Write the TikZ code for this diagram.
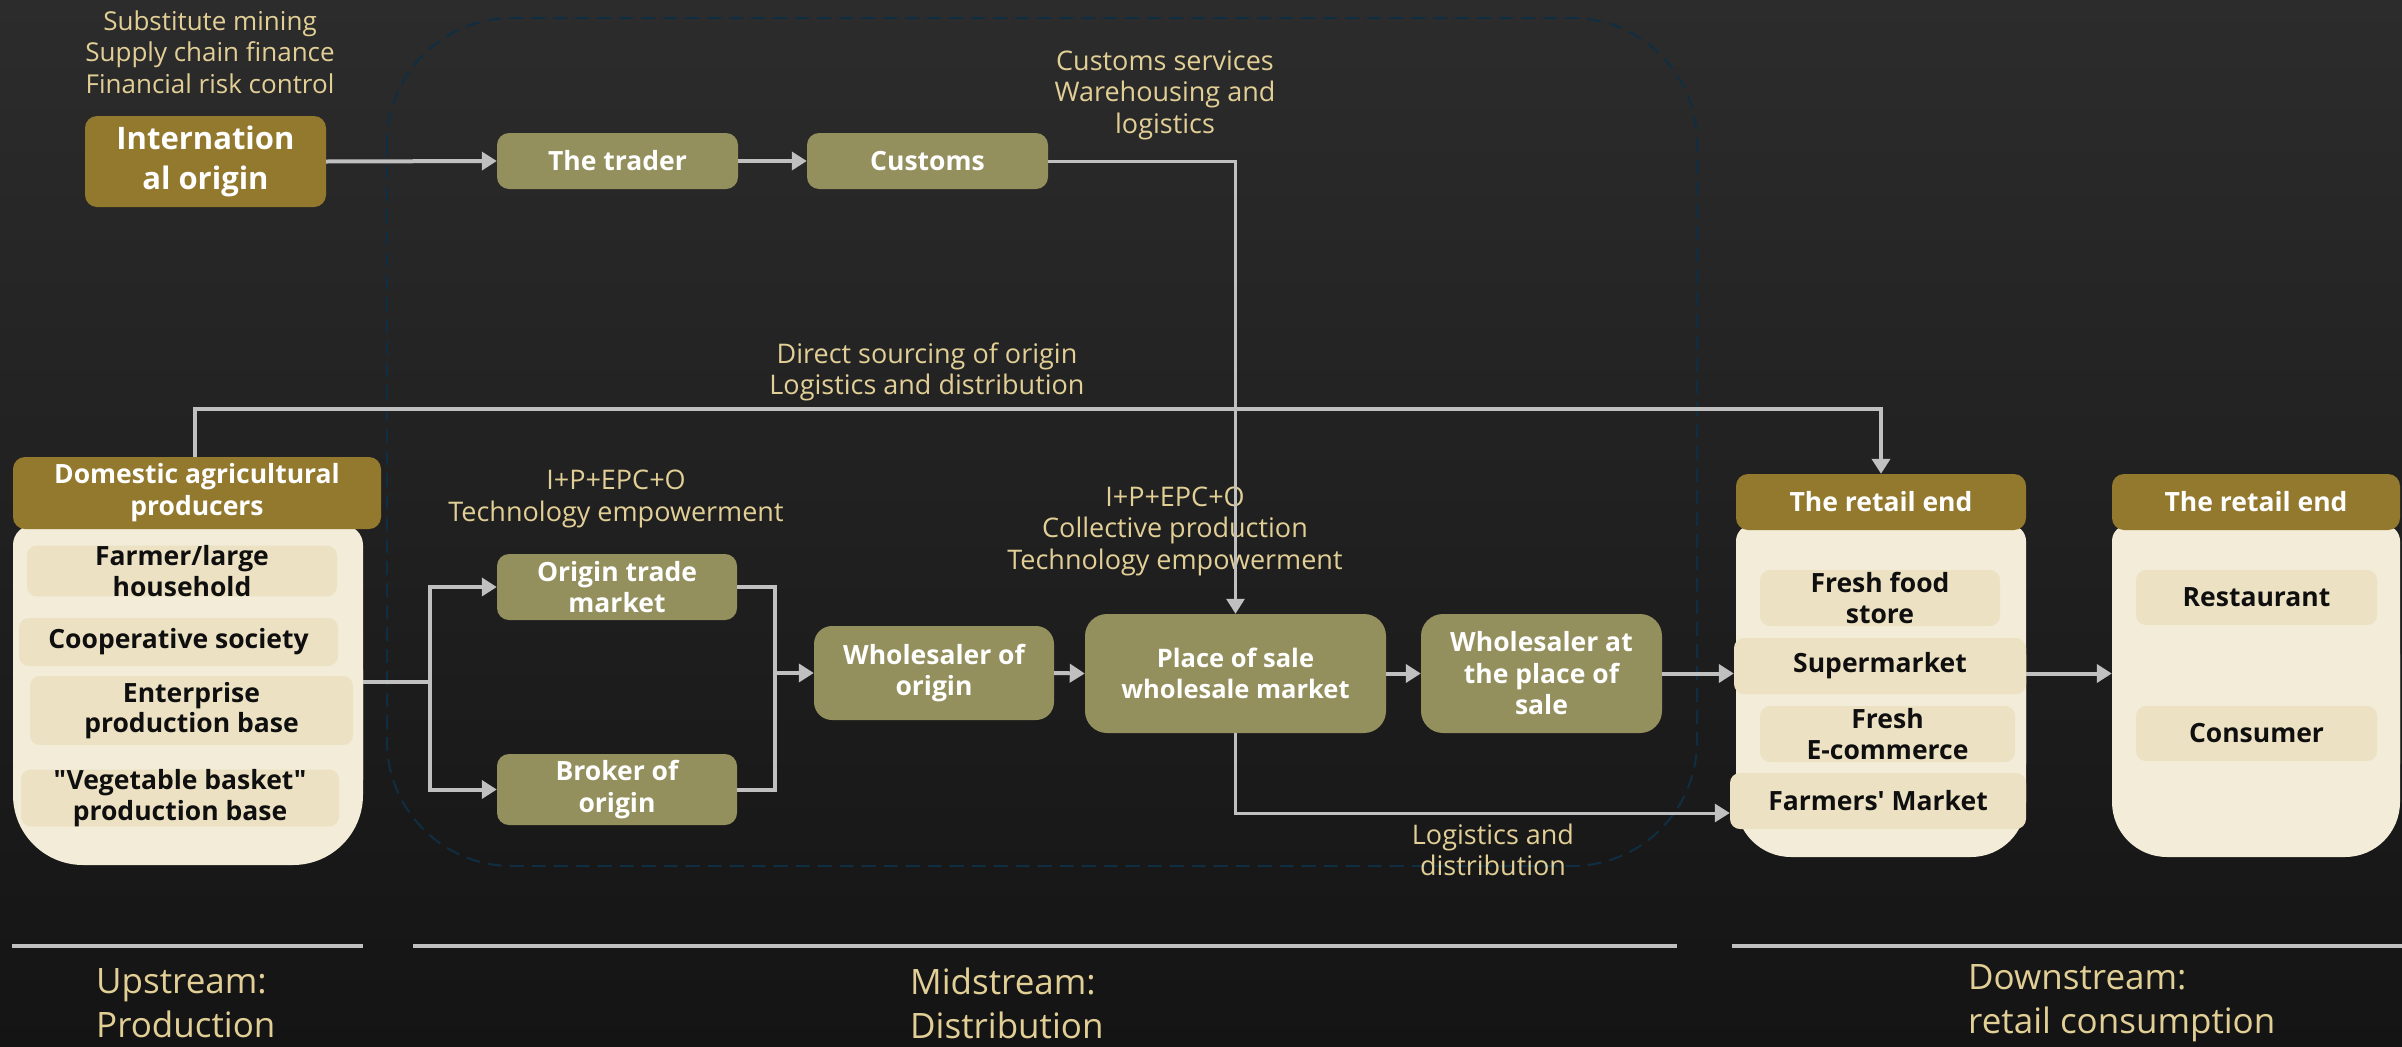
\documentclass[tikz,border=0pt]{standalone}
\usepackage{fontspec}
\setmainfont{Open Sans}[Ligatures=TeXOff]
\usetikzlibrary{arrows.meta}

\definecolor{bgtop}{RGB}{44,44,44}
\definecolor{bgbot}{RGB}{20,20,20}
\definecolor{gold}{RGB}{147,121,46}
\definecolor{olive}{RGB}{148,144,94}
\definecolor{cream}{RGB}{242,236,216}
\definecolor{itemfill}{RGB}{236,226,195}
\definecolor{tan}{RGB}{226,207,150}
\definecolor{wire}{RGB}{192,192,192}
\definecolor{framecol}{RGB}{16,46,66}
\definecolor{ink}{RGB}{15,15,15}

\tikzset{
  wireline/.style={draw=wire, line width=4pt},
  conn/.style={wireline, -{Triangle[length=15pt,width=18pt]}},
  note/.style={text=tan, align=center, inner sep=0pt,
    font=\fontsize{27}{31.5}\selectfont},
  stage/.style={text=tan, align=left, inner sep=0pt, anchor=west,
    font=\fontsize{35}{44}\selectfont},
  obox/.style={fill=olive, rounded corners=12pt, text=white, align=center,
    inner sep=0pt, font=\fontsize{26.5}{31.5}\selectfont\bfseries},
  ghead/.style={fill=gold, rounded corners=12pt, text=white, align=center,
    inner sep=0pt, font=\fontsize{26.5}{32}\selectfont\bfseries},
  item/.style={fill=itemfill, rounded corners=10pt, text=ink, align=center,
    inner sep=0pt, font=\fontsize{26.5}{30.5}\selectfont\bfseries},
}

\begin{document}
\begin{tikzpicture}[x=1pt,y=-1pt]
\useasboundingbox (0,0) rectangle (2402,1047);
\shade[top color=bgtop, bottom color=bgbot] (0,0) rectangle (2402,1047);

% midstream frame
\draw[framecol, line width=2pt, dash pattern=on 14pt off 8pt, rounded corners=125pt]
  (387,18) rectangle (1697,866);

% ---------- upstream ----------
\node[note, font=\fontsize{26}{31.5}\selectfont] (finnote) at (210,52) {Substitute mining\\Supply chain finance\\Financial risk control};
\node[ghead, minimum width=241pt, minimum height=91pt,
  font=\fontsize{31}{40}\selectfont\bfseries] (intl) at (205.5,161.5) {Internation\\al origin};

% domestic producers column
\fill[cream, rounded corners=20pt] (13,525) rectangle (363,800);
\fill[cream, rounded corners=70pt] (13,600) rectangle (363,865);
\node[minimum width=350pt, minimum height=340pt, inner sep=0pt] (dombody) at (188,695) {};
\node[ghead, minimum width=368pt, minimum height=72pt] (dom) at (197,493) {Domestic agricultural\\producers};
\node[item, minimum width=310pt, minimum height=48pt] (farmer) at (182,571) {Farmer/large\\household};
\node[item, minimum width=319pt, minimum height=48pt] (coop) at (178.5,642) {Cooperative society};
\node[item, minimum width=323pt, minimum height=69pt] (ent) at (191.5,710.5) {Enterprise\\production base};
\node[item, minimum width=318pt, minimum height=56pt] (veg) at (180,798) {"Vegetable basket"\\production base};

% ---------- midstream ----------
\node[obox, minimum width=241pt, minimum height=56pt] (trader) at (617.5,161) {The trader};
\node[obox, minimum width=241pt, minimum height=56pt] (customs) at (927.5,161) {Customs};
\node[note] (custnote) at (1165,95) {Customs services\\Warehousing and\\logistics};
\node[note] (directnote) at (927,372) {Direct sourcing of origin\\Logistics and distribution};
\node[note] (technote) at (616,499) {I+P+EPC+O\\Technology empowerment};
\node[note] (collnote) at (1175,531) {I+P+EPC+O\\Collective production\\Technology empowerment};
\node[note] (lognote) at (1493,850) {Logistics and\\distribution};

\node[obox, minimum width=240pt, minimum height=66pt] (otm) at (617,587) {Origin trade\\market};
\node[obox, minimum width=240pt, minimum height=71pt] (broker) at (617,789.5) {Broker of\\origin};
\node[obox, minimum width=240pt, minimum height=94pt, rounded corners=18pt] (wo) at (934,673) {Wholesaler of\\origin};
\node[obox, minimum width=301pt, minimum height=119pt, rounded corners=22pt,
  font=\fontsize{25.5}{31.5}\selectfont\bfseries] (place) at (1235.5,673.5) {Place of sale\\wholesale market};
\node[obox, minimum width=241pt, minimum height=119pt, rounded corners=22pt] (wap) at (1541.5,673.5) {Wholesaler at\\the place of\\sale};

% ---------- downstream ----------
\fill[cream, rounded corners=16pt] (1736,525) rectangle (2026,780);
\fill[cream, rounded corners=55pt] (1736,600) rectangle (2026,857);
\node[minimum width=290pt, minimum height=332pt, inner sep=0pt] (retbody) at (1881,691) {};
\node[ghead, minimum width=290pt, minimum height=56pt] (ret1) at (1881,502) {The retail end};
\node[item, minimum width=240pt, minimum height=56pt] (ffs) at (1880,598) {Fresh food\\store};
\node[item, minimum width=292pt, minimum height=56pt] (sm) at (1880,666) {Supermarket};
\node[item, minimum width=255pt, minimum height=56pt] (fec) at (1887.5,734) {Fresh\\E-commerce};
\node[item, minimum width=296pt, minimum height=56pt] (fm) at (1878,801) {Farmers' Market};

\fill[cream, rounded corners=16pt] (2112,525) rectangle (2400,780);
\fill[cream, rounded corners=55pt] (2112,600) rectangle (2400,857);
\node[minimum width=288pt, minimum height=332pt, inner sep=0pt] (consbody) at (2256,691) {};
\node[ghead, minimum width=288pt, minimum height=56pt] (ret2) at (2256,502) {The retail end};
\node[item, minimum width=241pt, minimum height=55pt] (rest) at (2256.5,597.5) {Restaurant};
\node[item, minimum width=241pt, minimum height=55pt] (cons) at (2256.5,733.5) {Consumer};

% ---------- connectors ----------
\draw[conn] (intl.east) -- (trader.west);
\draw[conn] (trader.east) -- (customs.west);
\draw[conn, line width=3pt] (customs.east) -| (place.north);
\coordinate (direct) at (195,409);
\draw[conn] (dom.north -| direct) |- (direct) -| (ret1.north);

\coordinate (split) at (430,682);
\draw[wireline] (dombody.east |- split) -- (split);
\draw[conn] (split) |- (otm.west);
\draw[conn] (split) |- (broker.west);
\coordinate (merge) at (775,673);
\draw[wireline] (otm.east) -| (merge) |- (broker.east);
\draw[conn] (merge) -- (wo.west);
\draw[conn] (wo.east) -- (place.west);
\draw[conn] (place.east) -- (wap.west);
\draw[conn] (wap.east) -- (wap.east -| sm.west);
\draw[conn, line width=3pt] (place.south) |- ([yshift=-12pt]fm.west);
\draw[conn] (sm.east |- wap.east) -- (wap.east -| consbody.west);

% ---------- stage bar ----------
\draw[wire, line width=4pt] (12,946) -- (363,946);
\draw[wire, line width=4pt] (413,946) -- (1677,946);
\draw[wire, line width=4pt] (1732,946) -- (2402,946);
\node[stage] (up) at (96,1003) {Upstream:\\Production};
\node[stage] (mid) at (910,1003) {Midstream:\\Distribution};
\node[stage] (down) at (1968,1003) {Downstream:\\retail consumption};
\end{tikzpicture}
\end{document}
